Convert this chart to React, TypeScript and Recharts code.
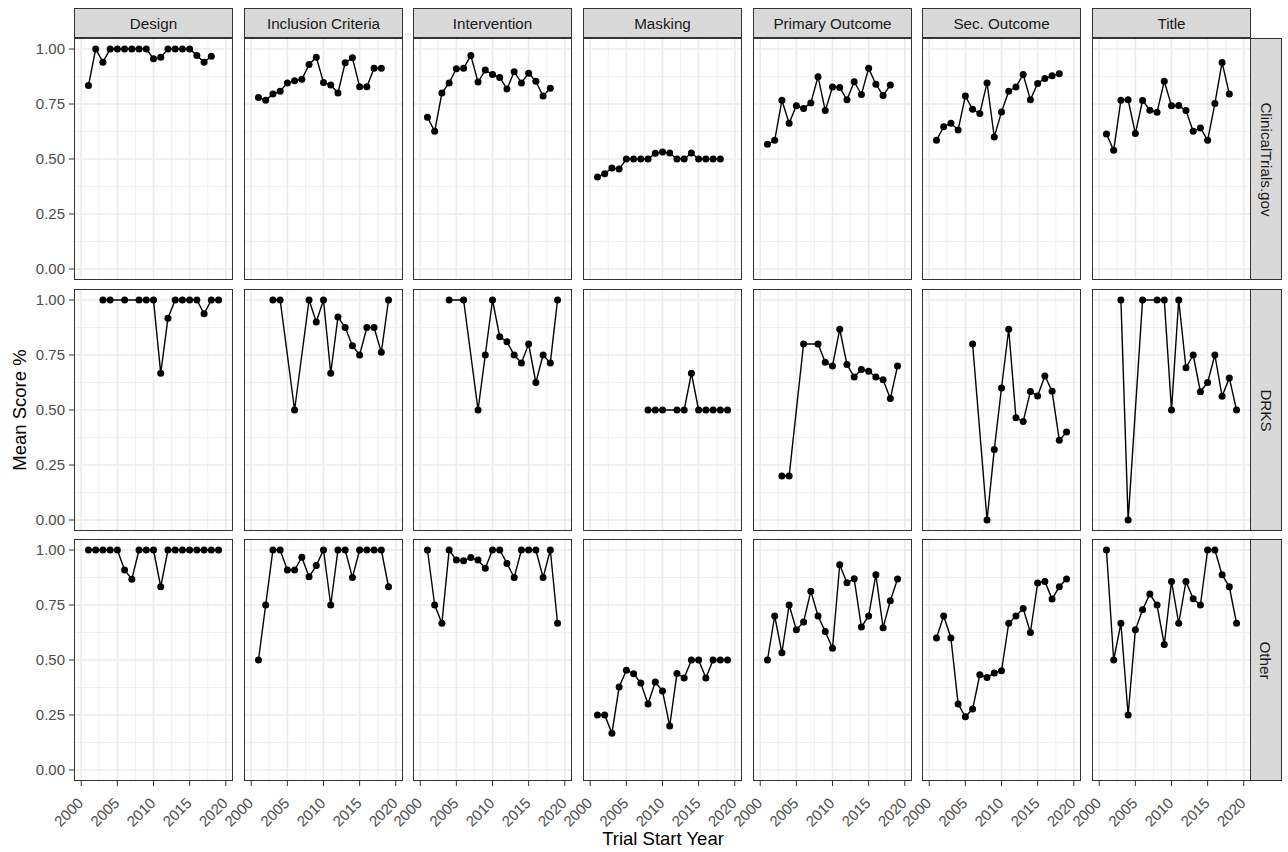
import React from 'react';
import { LineChart, Line, XAxis, YAxis, CartesianGrid } from 'recharts';

// ---------- data ----------
const criteria = ['Design', 'Inclusion Criteria', 'Intervention', 'Masking', 'Primary Outcome', 'Sec. Outcome', 'Title'];
const registries = ['ClinicalTrials.gov', 'DRKS', 'Other'];

const yTicks = [0, 0.25, 0.5, 0.75, 1];
const yMinor = [0.125, 0.375, 0.625, 0.875];
const xTicks = [2000, 2005, 2010, 2015, 2020];
const xMinor = [2002.5, 2007.5, 2012.5, 2017.5];

// ClinicalTrials.gov years
const ctYears = [2001, 2002, 2003, 2004, 2005, 2006, 2007, 2008, 2009, 2010, 2011, 2012, 2013, 2014, 2015, 2016, 2017, 2018];
const ctDesign = [0.834, 1, 0.94, 1, 1, 1, 1, 1, 1, 0.956, 0.962, 1, 1, 1, 1, 0.97, 0.94, 0.967];
const ctInclusion = [0.78, 0.767, 0.795, 0.808, 0.846, 0.856, 0.862, 0.929, 0.963, 0.848, 0.836, 0.8, 0.938, 0.96, 0.828, 0.828, 0.913, 0.913];
const ctIntervention = [0.69, 0.626, 0.8, 0.846, 0.91, 0.912, 0.97, 0.85, 0.904, 0.884, 0.871, 0.818, 0.897, 0.846, 0.89, 0.853, 0.786, 0.822];
const ctMasking = [0.418, 0.433, 0.459, 0.454, 0.5, 0.5, 0.5, 0.5, 0.526, 0.532, 0.527, 0.5, 0.5, 0.527, 0.5, 0.5, 0.5, 0.5];
const ctPrimary = [0.567, 0.585, 0.767, 0.663, 0.742, 0.73, 0.755, 0.874, 0.72, 0.827, 0.825, 0.769, 0.851, 0.793, 0.912, 0.84, 0.789, 0.836];
const ctSecondary = [0.585, 0.647, 0.663, 0.632, 0.786, 0.726, 0.707, 0.846, 0.6, 0.714, 0.808, 0.827, 0.884, 0.769, 0.843, 0.866, 0.878, 0.888];
const ctTitle = [0.614, 0.54, 0.767, 0.769, 0.616, 0.766, 0.722, 0.713, 0.853, 0.742, 0.743, 0.72, 0.626, 0.641, 0.585, 0.752, 0.939, 0.795];

// DRKS
const drksDesignYears = [2003, 2004, 2006, 2008, 2009, 2010, 2011, 2012, 2013, 2014, 2015, 2016, 2017, 2018, 2019];
const drksDesign = [1, 1, 1, 1, 1, 1, 0.667, 0.917, 1, 1, 1, 1, 0.9375, 1, 1];
const drksInclusionYears = [2003, 2004, 2006, 2008, 2009, 2010, 2011, 2012, 2013, 2014, 2015, 2016, 2017, 2018, 2019];
const drksInclusion = [1, 1, 0.5, 1, 0.9, 1, 0.667, 0.923, 0.875, 0.792, 0.75, 0.875, 0.875, 0.762, 1];
const drksInterventionYears = [2004, 2006, 2008, 2009, 2010, 2011, 2012, 2013, 2014, 2015, 2016, 2017, 2018, 2019];
const drksIntervention = [1, 1, 0.5, 0.75, 1, 0.833, 0.81, 0.75, 0.714, 0.8, 0.625, 0.75, 0.714, 1];
const drksMaskingYears = [2008, 2009, 2010, 2012, 2013, 2014, 2015, 2016, 2017, 2018, 2019];
const drksMasking = [0.5, 0.5, 0.5, 0.5, 0.5, 0.667, 0.5, 0.5, 0.5, 0.5, 0.5];
const drksPrimaryYears = [2003, 2004, 2006, 2008, 2009, 2010, 2011, 2012, 2013, 2014, 2015, 2016, 2017, 2018, 2019];
const drksPrimary = [0.2, 0.2, 0.8, 0.8, 0.717, 0.7, 0.867, 0.707, 0.65, 0.684, 0.676, 0.65, 0.637, 0.552, 0.7];
const drksSecondaryYears = [2006, 2008, 2009, 2010, 2011, 2012, 2013, 2014, 2015, 2016, 2017, 2018, 2019];
const drksSecondary = [0.8, 0, 0.32, 0.6, 0.867, 0.465, 0.448, 0.584, 0.564, 0.655, 0.585, 0.362, 0.4];
const drksTitleYears = [2003, 2004, 2006, 2008, 2009, 2010, 2011, 2012, 2013, 2014, 2015, 2016, 2017, 2018, 2019];
const drksTitle = [1, 0, 1, 1, 1, 0.5, 1, 0.692, 0.75, 0.583, 0.625, 0.75, 0.562, 0.646, 0.5];

// Other
const otherYears = [2001, 2002, 2003, 2004, 2005, 2006, 2007, 2008, 2009, 2010, 2011, 2012, 2013, 2014, 2015, 2016, 2017, 2018, 2019];
const otherDesign = [1, 1, 1, 1, 1, 0.909, 0.867, 1, 1, 1, 0.833, 1, 1, 1, 1, 1, 1, 1, 1];
const otherInclusion = [0.5, 0.75, 1, 1, 0.909, 0.909, 0.967, 0.878, 0.929, 1, 0.75, 1, 1, 0.875, 1, 1, 1, 1, 0.833];
const otherIntervention = [1, 0.75, 0.667, 1, 0.954, 0.951, 0.966, 0.954, 0.917, 1, 1, 0.939, 0.875, 1, 1, 1, 0.875, 1, 0.667];
const otherMasking = [0.25, 0.25, 0.167, 0.377, 0.453, 0.438, 0.395, 0.3, 0.4, 0.359, 0.2, 0.439, 0.418, 0.5, 0.5, 0.418, 0.5, 0.5, 0.5];
const otherPrimary = [0.5, 0.7, 0.533, 0.75, 0.637, 0.673, 0.813, 0.7, 0.629, 0.553, 0.933, 0.851, 0.869, 0.65, 0.7, 0.888, 0.647, 0.769, 0.868];
const otherSecondary = [0.6, 0.7, 0.6, 0.3, 0.242, 0.277, 0.433, 0.421, 0.441, 0.451, 0.667, 0.7, 0.734, 0.625, 0.85, 0.857, 0.777, 0.833, 0.868];
const otherTitle = [1, 0.5, 0.667, 0.25, 0.637, 0.728, 0.8, 0.75, 0.57, 0.857, 0.667, 0.857, 0.778, 0.75, 1, 1, 0.888, 0.833, 0.667];

const zip = (years: number[], values: number[]) => years.map((year, i) => ({ year, value: values[i] }));

const panels = [
  [
    zip(ctYears, ctDesign), zip(ctYears, ctInclusion), zip(ctYears, ctIntervention), zip(ctYears, ctMasking),
    zip(ctYears, ctPrimary), zip(ctYears, ctSecondary), zip(ctYears, ctTitle),
  ],
  [
    zip(drksDesignYears, drksDesign), zip(drksInclusionYears, drksInclusion), zip(drksInterventionYears, drksIntervention),
    zip(drksMaskingYears, drksMasking), zip(drksPrimaryYears, drksPrimary), zip(drksSecondaryYears, drksSecondary),
    zip(drksTitleYears, drksTitle),
  ],
  [
    zip(otherYears, otherDesign), zip(otherYears, otherInclusion), zip(otherYears, otherIntervention), zip(otherYears, otherMasking),
    zip(otherYears, otherPrimary), zip(otherYears, otherSecondary), zip(otherYears, otherTitle),
  ],
];

// ---------- layout ----------
const FONT = '"Liberation Sans", Arial, sans-serif';
const TICK_FS = 15;
const STRIP_FS = 15.2;
const TITLE_FS = 18.5;
const PW = 159;
const PH = 242;
const LEFT0 = 74;
const COL_STRIDE = 169.67;
const TOP0 = 38;
const ROW_STRIDE = 250.5;
const Y_AXIS_W = 74;
const X_AXIS_H = 70;

const colLeft = (c: number) => Math.round(LEFT0 + c * COL_STRIDE);
const rowTop = (r: number) => Math.round(TOP0 + r * ROW_STRIDE);

const XTick = (props: any) => {
  const { x, y, payload } = props;
  const px = x + 3;
  const py = y + 16;
  return (
    <text x={px} y={py} transform={`rotate(-45 ${px} ${py})`} textAnchor="end" fill="#4D4D4D" fontSize={TICK_FS} fontFamily={FONT}>
      {payload.value}
    </text>
  );
};

const Panel = ({ r, c }: { r: number; c: number }) => {
  const isLeft = c === 0;
  const isBottom = r === 2;
  const extraL = isLeft ? Y_AXIS_W : 0;
  const extraB = isBottom ? X_AXIS_H : 0;
  return (
    <div style={{ position: 'absolute', left: colLeft(c) - extraL, top: rowTop(r) }}>
      <LineChart width={PW + extraL} height={PH + extraB} data={panels[r][c]} margin={{ top: 0, right: 0, bottom: 0, left: 0 }}>
        <CartesianGrid verticalValues={xMinor} horizontalValues={yMinor} stroke="#EDEDED" strokeWidth={0.8} fill="none" />
        <CartesianGrid verticalValues={xTicks} horizontalValues={yTicks} stroke="#EBEBEB" strokeWidth={1.6} fill="none" />
        <XAxis
          type="number"
          dataKey="year"
          domain={[1999, 2021]}
          ticks={xTicks}
          interval={0}
          allowDataOverflow
          hide={!isBottom}
          height={X_AXIS_H}
          axisLine={false}
          tickSize={5}
          tickLine={{ stroke: '#333333', strokeWidth: 1 }}
          tick={<XTick />}
        />
        <YAxis
          type="number"
          domain={[-0.05, 1.05]}
          ticks={yTicks}
          interval={0}
          allowDataOverflow
          hide={!isLeft}
          width={Y_AXIS_W}
          axisLine={false}
          tickSize={5}
          tickMargin={4}
          tickLine={{ stroke: '#333333', strokeWidth: 1 }}
          tickFormatter={(v: number) => v.toFixed(2)}
          tick={{ fill: '#4D4D4D', fontSize: TICK_FS, fontFamily: FONT }}
        />
        <Line
          type="linear"
          dataKey="value"
          stroke="#000000"
          strokeWidth={1.4}
          dot={{ r: 3.5, fill: '#000000', stroke: '#000000', strokeWidth: 0 }}
          activeDot={false}
          isAnimationActive={false}
        />
      </LineChart>
      <div
        style={{
          position: 'absolute',
          left: extraL,
          top: 0,
          width: PW,
          height: PH,
          border: '1px solid #333333',
          boxSizing: 'border-box',
          pointerEvents: 'none',
        }}
      />
    </div>
  );
};

export default function App() {
  return (
    <div style={{ position: 'absolute', left: 0, top: 0, width: 1288, height: 852, background: '#FFFFFF', fontFamily: FONT, overflow: 'hidden' }}>
      <style>{`.recharts-surface { overflow: visible; } .recharts-wrapper { overflow: visible; }`}</style>
      {criteria.map((name, c) => (
        <div
          key={'strip-' + name}
          style={{
            position: 'absolute',
            left: colLeft(c),
            top: 8,
            width: PW,
            height: TOP0 - 8,
            background: '#D9D9D9',
            border: '1px solid #333333',
            boxSizing: 'border-box',
            display: 'flex',
            alignItems: 'center',
            justifyContent: 'center',
            fontSize: STRIP_FS,
            color: '#1A1A1A',
          }}
        >
          {name}
        </div>
      ))}
      {registries.map((name, r) => (
        <div
          key={'rstrip-' + name}
          style={{
            position: 'absolute',
            left: colLeft(6) + PW - 1,
            top: rowTop(r),
            width: 32,
            height: PH,
            background: '#D9D9D9',
            border: '1px solid #333333',
            boxSizing: 'border-box',
            display: 'flex',
            alignItems: 'center',
            justifyContent: 'center',
          }}
        >
          <div style={{ transform: 'rotate(90deg)', whiteSpace: 'nowrap', fontSize: STRIP_FS, color: '#1A1A1A' }}>{name}</div>
        </div>
      ))}
      {registries.map((_, r) => criteria.map((__, c) => <Panel key={`p-${r}-${c}`} r={r} c={c} />))}
      <div
        style={{
          position: 'absolute',
          left: 20,
          top: 410,
          transform: 'translate(-50%, -50%) rotate(-90deg)',
          whiteSpace: 'nowrap',
          fontSize: TITLE_FS,
          color: '#000000',
        }}
      >
        Mean Score %
      </div>
      <div
        style={{
          position: 'absolute',
          left: 663,
          top: 839,
          transform: 'translate(-50%, -50%)',
          whiteSpace: 'nowrap',
          fontSize: TITLE_FS,
          color: '#000000',
        }}
      >
        Trial Start Year
      </div>
    </div>
  );
}
